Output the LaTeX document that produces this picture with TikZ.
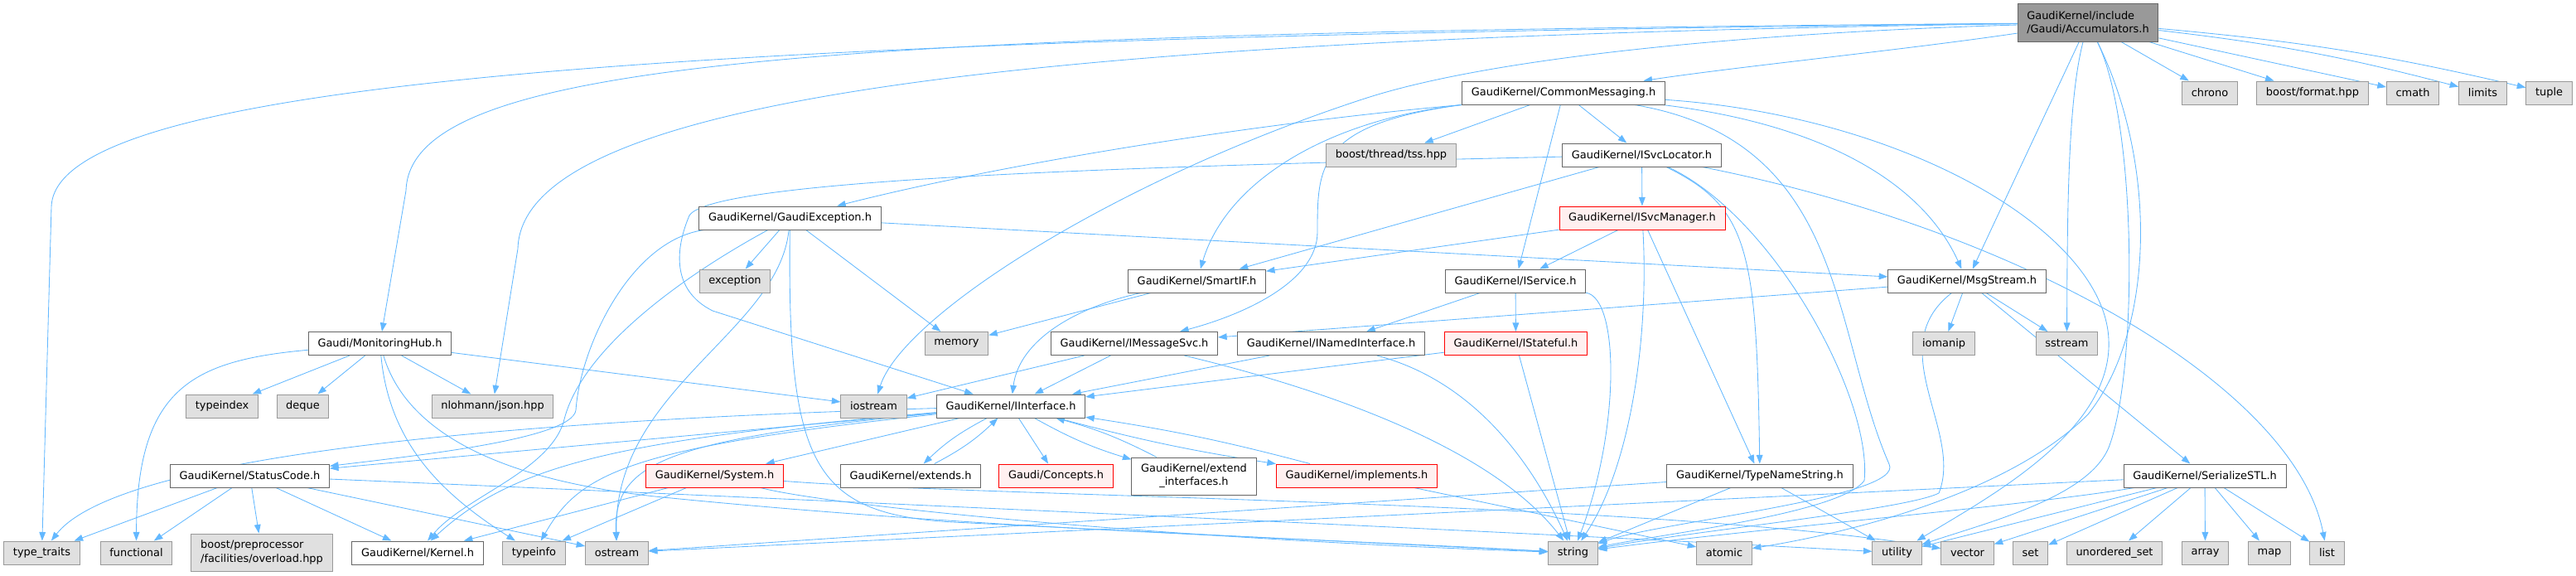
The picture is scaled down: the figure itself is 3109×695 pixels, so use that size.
\documentclass[tikz,border=0pt]{standalone}
\usepackage{fontspec}
\setmainfont{DejaVu Sans}
\usetikzlibrary{arrows.meta}

\definecolor{edgeblue}{HTML}{63B8FF}
\definecolor{docgray}{HTML}{666666}
\definecolor{sysgray}{HTML}{999999}
\definecolor{sysfill}{HTML}{E0E0E0}
\definecolor{redline}{HTML}{FF0000}
\definecolor{redfill}{HTML}{FFF0F0}
\definecolor{rootfill}{HTML}{999999}

\pgfdeclarelayer{edges}
\pgfsetlayers{edges,main}

\tikzset{
  box/.style={draw=docgray, fill=white, line width=0.7pt, minimum height=0.7cm,
    inner xsep=0.28cm, inner ysep=0pt, font=\fontsize{9.2}{11.5}\selectfont},
  sysbox/.style={box, draw=sysgray, fill=sysfill},
  redbox/.style={box, draw=redline, fill=redfill},
  rootbox/.style={box, fill=rootfill, align=left, minimum height=1.125cm},
  dep/.style={draw=edgeblue, line width=0.6pt, -{Triangle[length=7.5pt,width=5.5pt]}}
}

\begin{document}
\begin{tikzpicture}[x=0.025cm, y=-0.025cm]
\useasboundingbox (0,0) rectangle (3109,695);

% row 0
\node[rootbox] (acc) at (2520,27.5) {GaudiKernel/include\\/Gaudi/Accumulators.h};
% row 1
\node[box] (cmsg) at (1887,112) {GaudiKernel/CommonMessaging.h};
\node[sysbox] (chrono) at (2667,112) {chrono};
\node[sysbox] (bfmt) at (2791,112) {boost/format.hpp};
\node[sysbox] (cmath) at (2912,112) {cmath};
\node[sysbox] (limits) at (2996.5,112) {limits};
\node[sysbox] (tuple) at (3076.5,112) {tuple};
% row 2
\node[sysbox] (tss) at (1679,187) {boost/thread/tss.hpp};
\node[box] (svcloc) at (1981.5,187) {GaudiKernel/ISvcLocator.h};
% row 3
\node[box] (gexc) at (953.5,263) {GaudiKernel/GaudiException.h};
\node[redbox] (svcmgr) at (1982,263) {GaudiKernel/ISvcManager.h};
% row 4
\node[sysbox] (exception) at (887,339) {exception};
\node[box] (smartif) at (1444.5,339) {GaudiKernel/SmartIF.h};
\node[box] (isvc) at (1829,339) {GaudiKernel/IService.h};
\node[box] (msgstr) at (2374,339) {GaudiKernel/MsgStream.h};
% row 5
\node[box] (monhub) at (458.5,414.5) {Gaudi/MonitoringHub.h};
\node[sysbox] (memory) at (1154.5,414.5) {memory};
\node[box] (imsgsvc) at (1369,414.5) {GaudiKernel/IMessageSvc.h};
\node[box] (inamed) at (1606.5,414.5) {GaudiKernel/INamedInterface.h};
\node[redbox] (istate) at (1829.5,414.5) {GaudiKernel/IStateful.h};
\node[sysbox] (iomanip) at (2346,414.5) {iomanip};
\node[sysbox] (sstream) at (2494.5,414.5) {sstream};
% row 6
\node[sysbox] (typeindex) at (268,490) {typeindex};
\node[sysbox] (deque) at (365.5,490) {deque};
\node[sysbox] (json) at (594.5,490) {nlohmann/json.hpp};
\node[sysbox] (iostream) at (1054.5,490) {iostream};
\node[box] (iintf) at (1220,490) {GaudiKernel/IInterface.h};
% row 7
\node[box] (statcode) at (301.5,574) {GaudiKernel/StatusCode.h};
\node[redbox] (system) at (862.5,574) {GaudiKernel/System.h};
\node[box] (extends) at (1099,574) {GaudiKernel/extends.h};
\node[redbox] (concepts) at (1274.5,574) {Gaudi/Concepts.h};
\node[box, align=center, minimum height=1.125cm] (extif) at (1441,574.5) {GaudiKernel/extend\\\_interfaces.h};
\node[redbox] (implements) at (1637.5,574) {GaudiKernel/implements.h};
\node[box] (typename) at (2124,574) {GaudiKernel/TypeNameString.h};
\node[box] (serial) at (2661,574) {GaudiKernel/SerializeSTL.h};
% row 8
\node[sysbox] (typetraits) at (50.5,667) {type\_traits};
\node[sysbox] (functional) at (164.5,667) {functional};
\node[sysbox, align=left, minimum height=1.125cm] (boostpp) at (316,666.5) {boost/preprocessor\\/facilities/overload.hpp};
\node[box] (kernel) at (504,667) {GaudiKernel/Kernel.h};
\node[sysbox] (typeinfo) at (644.5,667) {typeinfo};
\node[sysbox] (ostream) at (744.5,667) {ostream};
\node[sysbox] (string) at (1898.5,667) {string};
\node[sysbox] (atomic) at (2081,667) {atomic};
\node[sysbox] (utility) at (2289.5,667) {utility};
\node[sysbox] (vector) at (2374.5,667) {vector};
\node[sysbox] (set) at (2450.5,667) {set};
\node[sysbox] (uset) at (2552,667) {unordered\_set};
\node[sysbox] (array) at (2661.5,667) {array};
\node[sysbox] (map) at (2739,667) {map};
\node[sysbox] (list) at (2808.5,667) {list};

\begin{pgfonlayer}{edges}
% Accumulators.h
\draw[dep] (acc) .. controls (2300,60) and (2100,80) .. (cmsg);
\draw[dep] (acc) .. controls (1000,40) and (495,70) .. (490,230) -- (monhub);
\draw[dep] (acc) .. controls (900,45) and (65,90) .. (62,250) -- (typetraits);
\draw[dep] (acc) .. controls (1300,45) and (630,110) .. (625,300) -- (json);
\draw[dep] (acc) .. controls (2100,40) and (1800,70) .. (1650,118) .. controls (1350,215) and (1090,380) .. (iostream);
\draw[dep] (acc) -- (chrono);
\draw[dep] (acc) -- (bfmt);
\draw[dep] (acc) -- (cmath);
\draw[dep] (acc) to[bend left=4] (limits);
\draw[dep] (acc) to[bend left=4] (tuple);
\draw[dep] (acc) -- (msgstr);
\draw[dep] (acc) .. controls (2496,120) and (2495,250) .. (sstream);
\draw[dep] (acc) .. controls (2580,150) and (2580,450) .. (2545,540) .. controls (2520,600) and (2400,630) .. (utility);
\draw[dep] (acc) .. controls (2605,200) and (2600,400) .. (2520,500) .. controls (2430,590) and (2250,640) .. (atomic);

% CommonMessaging.h
\draw[dep] (cmsg) -- (tss);
\draw[dep] (cmsg) -- (svcloc);
\draw[dep] (cmsg.south west) .. controls (1500,150) and (1200,200) .. (gexc);
\draw[dep] (cmsg.south west) .. controls (1600,145) and (1480,220) .. (smartif);
\draw[dep] (cmsg.south west) .. controls (1590,150) and (1590,200) .. (1590,280) .. controls (1590,340) and (1500,380) .. (imsgsvc);
\draw[dep] (cmsg) -- (isvc);
\draw[dep] (cmsg) .. controls (2200,150) and (2320,220) .. (msgstr);
\draw[dep] (cmsg) .. controls (2230,170) and (2210,400) .. (2280,560) .. controls (2300,600) and (2000,630) .. (string);
\draw[dep] (cmsg) .. controls (2300,140) and (2540,280) .. (2545,410) .. controls (2550,520) and (2400,600) .. (utility);

% ISvcLocator.h
\draw[dep] (svcloc) -- (svcmgr);
\draw[dep] (svcloc) .. controls (1400,200) and (860,215) .. (832,260) .. controls (815,300) and (810,350) .. (860,375) -- (iintf);
\draw[dep] (svcloc) -- (smartif);
\draw[dep] (svcloc) .. controls (2110,250) and (2120,300) .. (typename);
\draw[dep] (svcloc) .. controls (2140,260) and (2260,480) .. (2250,580) .. controls (2220,620) and (2000,645) .. (string);
\draw[dep] (svcloc) .. controls (2450,280) and (2770,470) .. (list);

% ISvcManager.h
\draw[dep] (svcmgr) -- (isvc);
\draw[dep] (svcmgr) -- (smartif);
\draw[dep] (svcmgr) -- (typename);
\draw[dep] (svcmgr) .. controls (1990,400) and (1970,560) .. (string);

% GaudiException.h
\draw[dep] (gexc) -- (exception);
\draw[dep] (gexc) -- (memory);
\draw[dep] (gexc) -- (msgstr);
\draw[dep] (gexc) .. controls (760,290) and (700,420) .. (695,495) .. controls (690,530) and (500,550) .. (statcode);
\draw[dep] (gexc) .. controls (830,330) and (700,420) .. (680,510) .. controls (660,570) and (560,600) .. (kernel);
\draw[dep] (gexc) .. controls (940,400) and (740,470) .. (ostream);
\draw[dep] (gexc) .. controls (950,560) and (980,620) .. (1150,630) -- (string);

% MonitoringHub.h
\draw[dep] (monhub) .. controls (230,435) and (165,470) .. (functional);
\draw[dep] (monhub) -- (typeindex);
\draw[dep] (monhub) -- (deque);
\draw[dep] (monhub) -- (json);
\draw[dep] (monhub) .. controls (470,540) and (540,600) .. (typeinfo);
\draw[dep] (monhub) .. controls (490,520) and (600,580) .. (800,600) .. controls (1200,640) and (1600,650) .. (string);
\draw[dep] (monhub) -- (iostream);

% StatusCode.h
\draw[dep] (statcode) -- (typetraits);
\draw[dep] (statcode) -- (functional);
\draw[dep] (statcode) -- (boostpp);
\draw[dep] (statcode) -- (kernel);
\draw[dep] (statcode) -- (ostream);
\draw[dep] (statcode) .. controls (800,595) and (1800,640) .. (utility);

% IInterface.h
\draw[dep] (iintf) .. controls (700,505) and (150,540) .. (typetraits);
\draw[dep] (iintf) -- (statcode);
\draw[dep] (iintf) .. controls (750,530) and (620,560) .. (kernel);
\draw[dep] (iintf) .. controls (760,540) and (700,570) .. (typeinfo);
\draw[dep] (iintf) .. controls (800,530) and (740,560) .. (ostream);
\draw[dep] (iintf) -- (system);
\draw[dep] (iintf) to[bend right=8] (extends);
\draw[dep] (extends) to[bend right=8] (iintf);
\draw[dep] (iintf) -- (concepts);
\draw[dep] (iintf) to[bend right=6] (extif);
\draw[dep] (extif) to[bend right=6] (iintf);
\draw[dep] (iintf) to[bend right=3] (implements);
\draw[dep] (implements) to[bend right=3] (iintf);

% SmartIF.h
\draw[dep] (smartif) -- (memory);
\draw[dep] (smartif) .. controls (1300,370) and (1230,410) .. (iintf);

% MsgStream.h
\draw[dep] (msgstr) -- (imsgsvc);
\draw[dep] (msgstr) -- (iomanip);
\draw[dep] (msgstr) -- (sstream);
\draw[dep] (msgstr) -- (serial);
\draw[dep] (msgstr) .. controls (2270,420) and (2370,520) .. (2340,595) .. controls (2300,615) and (2050,640) .. (string);

% IMessageSvc.h, INamedInterface.h, IStateful.h, IService.h
\draw[dep] (imsgsvc) -- (iostream);
\draw[dep] (imsgsvc) -- (iintf);
\draw[dep] (imsgsvc) .. controls (1600,470) and (1800,540) .. (string);
\draw[dep] (inamed) -- (iintf);
\draw[dep] (inamed) .. controls (1780,460) and (1850,560) .. (string);
\draw[dep] (istate) -- (iintf);
\draw[dep] (istate) -- (string);
\draw[dep] (isvc) -- (inamed);
\draw[dep] (isvc) -- (istate);
\draw[dep] (isvc) .. controls (1955,360) and (1955,520) .. (string);

% System.h, implements.h
\draw[dep] (system) -- (kernel);
\draw[dep] (system) -- (typeinfo);
\draw[dep] (system) .. controls (1000,610) and (1400,650) .. (string);
\draw[dep] (system) .. controls (1200,600) and (2000,605) .. (vector);
\draw[dep] (implements) -- (atomic);

% TypeNameString.h
\draw[dep] (typename) -- (ostream);
\draw[dep] (typename) -- (string);
\draw[dep] (typename) -- (utility);

% SerializeSTL.h
\draw[dep] (serial) -- (ostream);
\draw[dep] (serial) .. controls (2450,610) and (2100,640) .. (string);
\draw[dep] (serial) -- (utility);
\draw[dep] (serial) -- (vector);
\draw[dep] (serial) -- (set);
\draw[dep] (serial) -- (uset);
\draw[dep] (serial) -- (array);
\draw[dep] (serial) -- (map);
\draw[dep] (serial) -- (list);
\end{pgfonlayer}
\end{tikzpicture}
\end{document}
